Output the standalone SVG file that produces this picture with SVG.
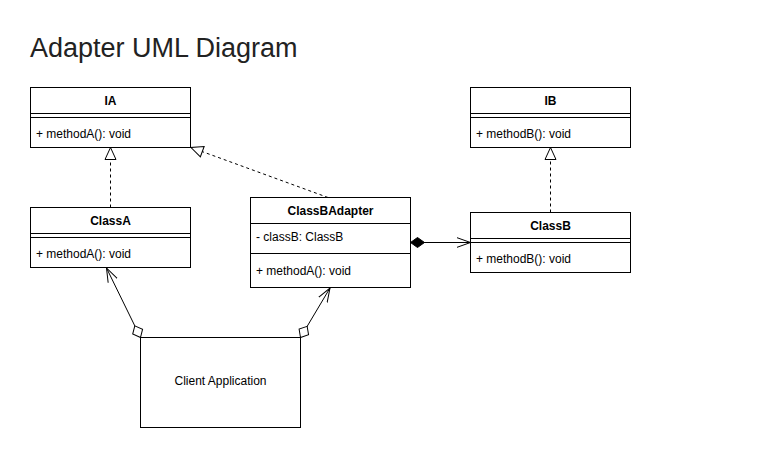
<svg xmlns="http://www.w3.org/2000/svg" width="783" height="453" viewBox="0 0 783 453">
<style>
.box{fill:#fff;stroke:#000;stroke-width:1}
.sep{stroke:#000;stroke-width:1;fill:none}
.t{font-family:"Liberation Sans",Arial,sans-serif;font-size:12px;fill:#000}
.b{font-weight:bold;text-anchor:middle}
.title{font-family:"Liberation Sans",Arial,sans-serif;font-size:27px;fill:#222}
.c{stroke:#000;stroke-width:1;fill:none}
.dash{stroke-dasharray:3 3}
</style>
<defs>
<marker id="tri" markerUnits="userSpaceOnUse" markerWidth="16" markerHeight="16" refX="14" refY="8" orient="auto" viewBox="0 0 16 16"><path d="M2,2.5 L14,8 L2,13.5 Z" fill="#fff" stroke="#000" stroke-width="1"/></marker>
<marker id="open" markerUnits="userSpaceOnUse" markerWidth="16" markerHeight="16" refX="14" refY="8" orient="auto" viewBox="0 0 16 16"><path d="M0,3 L14,8 L0,13" fill="none" stroke="#000" stroke-width="1"/></marker>
<marker id="dfill" markerUnits="userSpaceOnUse" markerWidth="16" markerHeight="12" refX="1" refY="6" orient="auto" viewBox="0 0 16 12"><path d="M1,6 L8,1 L15,6 L8,11 Z" fill="#000" stroke="#000" stroke-width="1"/></marker>
<marker id="dopen" markerUnits="userSpaceOnUse" markerWidth="16" markerHeight="14" refX="1" refY="7" orient="auto" viewBox="0 0 16 14"><path d="M1,7 L7.5,1.5 L14,7 L7.5,12.5 Z" fill="#fff" stroke="#000" stroke-width="1"/></marker>
</defs>
<text class="title" x="30" y="57">Adapter UML Diagram</text>
<g id="connectors">
<path class="c dash" d="M110.5,207.5 L110.5,147.5" marker-end="url(#tri)"/>
<path class="c dash" d="M328,197.5 L191,147.5" marker-end="url(#tri)"/>
<path class="c dash" d="M550.5,212.5 L550.5,147.5" marker-end="url(#tri)"/>
<path class="c" d="M410.5,242.5 L470.5,242.5" marker-start="url(#dfill)" marker-end="url(#open)"/>
<path class="c" d="M140.5,337.5 L106.5,268" marker-start="url(#dopen)" marker-end="url(#open)"/>
<path class="c" d="M300.5,337.5 L330,288" marker-start="url(#dopen)" marker-end="url(#open)"/>
</g>
<g id="IA">
<rect class="box" x="30.5" y="87.5" width="160" height="60"/>
<path class="sep" d="M30.5,113.5 H190.5 M30.5,117.5 H190.5"/>
<text class="t b" x="110.5" y="105">IA</text>
<text class="t" x="36" y="138">+ methodA(): void</text>
</g>
<g id="IB">
<rect class="box" x="470.5" y="87.5" width="160" height="60"/>
<path class="sep" d="M470.5,113.5 H630.5 M470.5,117.5 H630.5"/>
<text class="t b" x="550.5" y="105">IB</text>
<text class="t" x="476" y="138">+ methodB(): void</text>
</g>
<g id="ClassA">
<rect class="box" x="30.5" y="207.5" width="160" height="60"/>
<path class="sep" d="M30.5,233.5 H190.5 M30.5,237.5 H190.5"/>
<text class="t b" x="110.5" y="225">ClassA</text>
<text class="t" x="36" y="258">+ methodA(): void</text>
</g>
<g id="ClassBAdapter">
<rect class="box" x="250.5" y="197.5" width="160" height="90"/>
<path class="sep" d="M250.5,223.5 H410.5 M250.5,253.5 H410.5"/>
<text class="t b" x="330.5" y="215">ClassBAdapter</text>
<text class="t" x="256" y="241">- classB: ClassB</text>
<text class="t" x="256" y="275">+ methodA(): void</text>
</g>
<g id="ClassB">
<rect class="box" x="470.5" y="212.5" width="160" height="60"/>
<path class="sep" d="M470.5,238.5 H630.5 M470.5,242.5 H630.5"/>
<text class="t b" x="550.5" y="230">ClassB</text>
<text class="t" x="476" y="263">+ methodB(): void</text>
</g>
<g id="ClientApplication">
<rect class="box" x="140.5" y="337.5" width="160" height="90"/>
<text class="t" x="220.5" y="385" text-anchor="middle">Client Application</text>
</g>
</svg>
